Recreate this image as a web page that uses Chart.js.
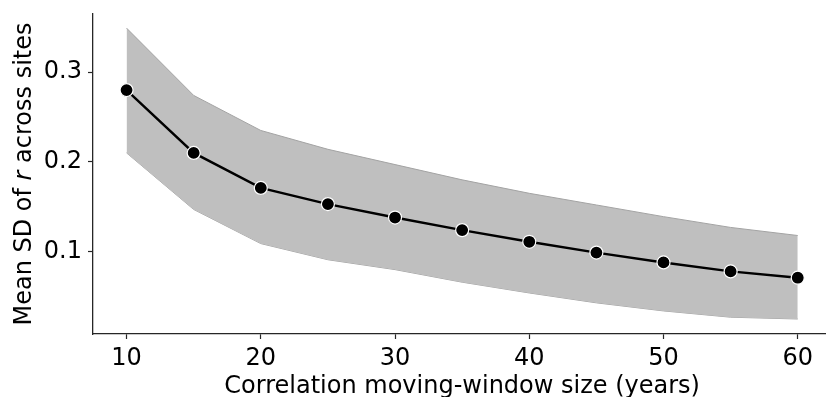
<!DOCTYPE html>
<html>
<head>
<meta charset="utf-8">
<script src="https://cdn.jsdelivr.net/npm/chart.js@4/dist/chart.umd.min.js"></script>
<style>
  html, body { margin: 0; padding: 0; background: #ffffff; overflow: hidden; }
  #sdChart { display: block; }
</style>
</head>
<body>
<canvas id="sdChart" width="839" height="397"></canvas>
<script>
// moving-window size (years)
const windowSizes = [10, 15, 20, 25, 30, 35, 40, 45, 50, 55, 60];
// mean SD of r across sites, with the shaded range
const meanSd  = [0.280, 0.210, 0.171, 0.153, 0.138, 0.124, 0.111, 0.099, 0.088, 0.078, 0.071];
const upperSd = [0.349, 0.274, 0.235, 0.214, 0.197, 0.180, 0.165, 0.152, 0.139, 0.127, 0.118];
const lowerSd = [0.210, 0.147, 0.109, 0.091, 0.080, 0.066, 0.054, 0.043, 0.034, 0.027, 0.025];

const xTicks = [10, 20, 30, 40, 50, 60];
const yTicks = [0.1, 0.2, 0.3];

const FONT = "'DejaVu Sans', sans-serif";
const AXIS_COLOR = "#262626";

const toPoints = (ys) => windowSizes.map((x, i) => ({ x: x, y: ys[i] }));

// axis titles, drawn by hand so the "r" can be italic
const axisTitles = {
    id: "axisTitles",
    afterDraw(chart) {
        const ctx = chart.ctx;
        const area = chart.chartArea;
        ctx.save();
        ctx.fillStyle = "#000000";
        ctx.textBaseline = "alphabetic";

        // x title
        ctx.font = "24px " + FONT;
        ctx.textAlign = "center";
        ctx.fillText("Correlation moving-window size (years)", (area.left + area.right) / 2, 393);

        // y title
        const parts = [
            { text: "Mean SD of ", font: "24px " + FONT },
            { text: "r", font: "italic 24px " + FONT },
            { text: " across sites", font: "24px " + FONT }
        ];
        let total = 0;
        parts.forEach(p => { ctx.font = p.font; p.w = ctx.measureText(p.text).width; total += p.w; });
        ctx.translate(31, (area.top + area.bottom) / 2);
        ctx.rotate(-Math.PI / 2);
        ctx.textAlign = "left";
        let pos = -total / 2;
        parts.forEach(p => { ctx.font = p.font; ctx.fillText(p.text, pos, 0); pos += p.w; });
        ctx.restore();
    }
};

const data = {
    datasets: [
        {
            label: "mean",
            data: toPoints(meanSd),
            borderColor: "#000000",
            borderWidth: 2.4,
            backgroundColor: "#000000",
            pointRadius: 6.5,
            pointBorderColor: "#ffffff",
            pointBorderWidth: 1.2,
            fill: false,
            order: 0
        },
        {
            label: "lower",
            data: toPoints(lowerSd),
            borderColor: "#a3a3a3",
            borderWidth: 1,
            pointRadius: 0,
            fill: false,
            order: 2
        },
        {
            label: "upper",
            data: toPoints(upperSd),
            borderColor: "#a3a3a3",
            borderWidth: 1,
            backgroundColor: "#bfbfbf",
            pointRadius: 0,
            fill: { target: 1 },
            order: 1
        }
    ]
};

const config = {
    type: "line",
    data: data,
    options: {
        responsive: false,
        animation: false,
        events: [],
        layout: { padding: { top: 14, right: 1, left: 0, bottom: 0 } },
        plugins: {
            legend: { display: false },
            tooltip: { enabled: false }
        },
        scales: {
            x: {
                type: "linear",
                min: 7.5,
                max: 62.5,
                afterBuildTicks: (scale) => { scale.ticks = xTicks.map(v => ({ value: v })); },
                afterFit: (scale) => {
                    scale.height = 63;
                    scale.paddingLeft = 0;
                    scale.paddingRight = 0;
                },
                grid: { drawOnChartArea: false, drawTicks: true, tickLength: 5, tickColor: AXIS_COLOR, tickWidth: 1.2 },
                border: { display: true, color: AXIS_COLOR, width: 1.3 },
                ticks: { color: "#000000", padding: 5, maxRotation: 0, font: { family: FONT, size: 24 } }
            },
            y: {
                type: "linear",
                min: 0.0083,
                max: 0.3647,
                afterBuildTicks: (scale) => { scale.ticks = yTicks.map(v => ({ value: v })); },
                afterFit: (scale) => {
                    scale.width = 93;
                    scale.paddingTop = 0;
                    scale.paddingBottom = 0;
                },
                grid: { drawOnChartArea: false, drawTicks: true, tickLength: 5, tickColor: AXIS_COLOR, tickWidth: 1.2 },
                border: { display: true, color: AXIS_COLOR, width: 1.3 },
                ticks: {
                    color: "#000000",
                    padding: 6,
                    font: { family: FONT, size: 24 },
                    callback: (v) => v.toFixed(1)
                }
            }
        }
    },
    plugins: [axisTitles]
};

new Chart(document.getElementById("sdChart"), config);
</script>
</body>
</html>
